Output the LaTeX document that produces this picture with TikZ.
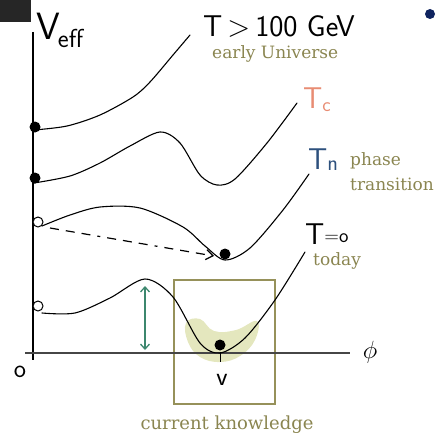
\documentclass[tikz,border=0pt]{standalone}
\usepackage{fontspec}
\setmainfont{DejaVu Serif}
\usetikzlibrary{arrows.meta}
\definecolor{olivetxt}{RGB}{138,133,80}
\definecolor{boxol}{RGB}{150,145,90}
\definecolor{tccol}{RGB}{232,140,115}
\definecolor{tncol}{RGB}{45,80,125}
\definecolor{teal}{RGB}{60,135,110}
\definecolor{blob}{RGB}{228,231,190}
\definecolor{navy}{RGB}{15,35,95}
\definecolor{axisgray}{RGB}{70,70,70}
\tikzset{
  curve/.style={line width=1.1pt, black, line cap=round},
  hand/.style={font=\sffamily\fontsize{30}{32}\selectfont, inner sep=0pt},
  oltxt/.style={font=\fontsize{17}{20}\selectfont, text=olivetxt, inner sep=0pt, anchor=west},
  ball/.style={circle, fill=black, inner sep=0pt, minimum size=11pt},
  hole/.style={circle, draw=black, line width=1pt, fill=white, inner sep=0pt, minimum size=10pt},
}
\begin{document}
\begin{tikzpicture}[x=1pt,y=-1pt]
\useasboundingbox (0,0) rectangle (444,436);
% corner decorations
\fill[black!85] (0,0) rectangle (31,22);
\fill[navy] (430,14) circle (5);
% blob
\fill[blob] plot[smooth cycle, tension=0.7] coordinates {(186,323) (200,319) (214,331) (236,330) (257,321) (255,340) (240,356) (220,362) (200,357) (188,342)};
% knowledge box
\draw[boxol, line width=1.2pt] (174,280) rectangle (275,404);
% axes
\draw[black, line width=1.1pt] (33,32) -- (33,360);
\draw[axisgray, line width=1.4pt] (25,353) -- (350,353);
\draw[black, line width=1pt] (220,352) -- (220,362);
% curve 1
\draw[curve] plot[smooth] coordinates {(34,130) (67,126) (100,115) (133,97) (150,82) (173,55) (190,35)};
% curve 2
\draw[curve] plot[smooth] coordinates {(34,183) (70,176) (100,163) (130,146) (160,132) (180,143) (200,175) (217,185) (235,179) (267,143) (297,103)};
% curve 3
\draw[curve] plot[smooth] coordinates {(42,226) (70,215) (100,207) (140,208) (183,227) (205,246) (225,260) (250,248) (283,210) (309,174)};
% curve 4
\draw[curve] plot[smooth] coordinates {(42,313) (75,313) (110,298) (145,279) (173,297) (200,343) (220,353) (245,338) (275,300) (305,252)};
% balls and holes
\node[ball] (b1) at (35,127) {};
\node[ball] (b2) at (35,178) {};
\node[hole] (h3) at (38,222) {};
\node[hole] (h4) at (38,306) {};
\node[ball] (b3) at (225,254) {};
\node[ball] (b4) at (220,345) {};
% dashed arrow
\draw[line width=1.2pt, dash pattern=on 9pt off 7pt on 9pt off 7pt on 9pt off 7pt on 3pt off 7pt, -{Straight Barb[length=7pt,width=10pt]}] (50,228) -- (214,256);
% green double arrow
\draw[teal, line width=1.3pt, {Straight Barb[length=5pt,width=9pt]}-{Straight Barb[length=5pt,width=9pt]}] (145,286) -- (145,350);
% labels
\node[hand, anchor=west, font=\sffamily\fontsize{38}{40}\selectfont] (veff) at (36,30) {V\kern-2pt\raisebox{-8pt}{\fontsize{26}{28}\selectfont eff}};
\node[hand, anchor=west] (tg) at (203,26) {T\,>\,100 GeV};
\node[oltxt] (eu) at (212,54) {early Universe};
\node[hand, text=tccol, anchor=west] (tc) at (303,100) {T\raisebox{-3pt}{\fontsize{20}{22}\selectfont c}};
\node[hand, text=tncol, anchor=west] (tn) at (308,160) {T\raisebox{-1pt}{\fontsize{22}{24}\selectfont n}};
\node[oltxt] (ph) at (350,161) {phase};
\node[oltxt] (tr) at (350,184) {transition};
\node[hand, anchor=west] (t0) at (305,234) {T\raisebox{2pt}{\fontsize{20}{22}\selectfont =o}};
\node[oltxt] (td) at (313,261) {today};
\node[hand, font=\sffamily\fontsize{26}{28}\selectfont] (zero) at (20,372) {o};
\node[hand, font=\sffamily\fontsize{26}{28}\selectfont] (vv) at (222,380) {v};
\node[font=\fontsize{36}{38}\selectfont, inner sep=0pt] (phi) at (370,352) {$\phi$};
\node[oltxt, anchor=center, font=\fontsize{18}{21}\selectfont] (ck) at (227,425) {current knowledge};
\end{tikzpicture}
\end{document}
